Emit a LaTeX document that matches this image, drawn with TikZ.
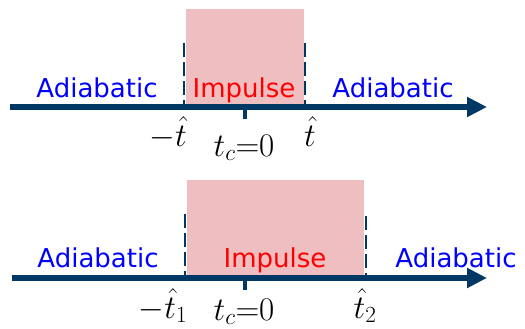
\documentclass[tikz,border=0pt]{standalone}
\usepackage{fix-cm}
\usepackage{fontspec}
\usepackage{amsmath}
\usetikzlibrary{arrows.meta,positioning}
\newfontfamily\labelfont{DejaVu Sans}
\definecolor{cAxis}{RGB}{0,56,101}
\definecolor{cImp} {RGB}{239,190,192}
\tikzset{
  axisline/.style={line width=5.5pt,cAxis,-{Triangle[length=20pt,width=19pt]}},
  dashedge/.style={line width=2pt,cAxis,dash pattern=on 14pt off 5pt},
  tickmark/.style={line width=4pt,cAxis},
  impbox/.style={fill=cImp,draw=none},
  phase/.style={font=\labelfont\fontsize{26}{29}\selectfont,text=blue,anchor=base,inner sep=0pt},
  impl/.style={phase,text=red},
  tlab/.style={font=\fontsize{33}{36}\selectfont,anchor=base,inner sep=0pt},
}
\begin{document}
\begin{tikzpicture}[x=1pt,y=-1pt]
  \useasboundingbox (0,0) rectangle (525,329);
  % upper panel: symmetric impulse window
  \fill[impbox] (186,9) rectangle (304,107);
  \coordinate (aS) at (10,107);
  \coordinate (aE) at (487,107);
  \coordinate (dLt) at (184,43);  \coordinate (dLb) at (184,107);
  \coordinate (dRt) at (305,43);  \coordinate (dRb) at (305,107);
  \coordinate (tA) at (245,106);  \coordinate (tB) at (245,119);
  \draw[dashedge] (dLt) -- (dLb);
  \draw[dashedge] (dRt) -- (dRb);
  \draw[axisline] (aS) -- (aE);
  \draw[tickmark] (tA) -- (tB);
  \node[phase] (adL) at (97,97)  {Adiabatic};
  \node[impl]  (imp) at (244,97) {Impulse};
  \node[phase] (adR) at (393,97) {Adiabatic};
  \node[tlab]  (tm)  at (168,146) {$-\hat{t}$};
  \node[tlab]  (tc)  at (244,156) {$t_c{=}0$};
  \node[tlab]  (tp)  at (310,146) {$\hat{t}$};

  % lower panel: asymmetric impulse window
  \fill[impbox] (187,180) rectangle (364,278);
  \coordinate (bS) at (12,278);
  \coordinate (bE) at (487,278);
  \coordinate (eLt) at (185,214); \coordinate (eLb) at (185,278);
  \coordinate (eRt) at (366,216); \coordinate (eRb) at (366,278);
  \coordinate (uA) at (245,277);  \coordinate (uB) at (245,290);
  \draw[dashedge] (eLt) -- (eLb);
  \draw[dashedge] (eRt) -- (eRb);
  \draw[axisline] (bS) -- (bE);
  \draw[tickmark] (uA) -- (uB);
  \node[phase] (bdL) at (98,267)  {Adiabatic};
  \node[impl]  (bmp) at (275,267) {Impulse};
  \node[phase] (bdR) at (456,267) {Adiabatic};
  \node[tlab]  (bm)  at (163,318) {$-\hat{t}_1$};
  \node[tlab]  (bc)  at (244,320) {$t_c{=}0$};
  \node[tlab]  (bp)  at (365,318) {$\hat{t}_2$};
\end{tikzpicture}
\end{document}
